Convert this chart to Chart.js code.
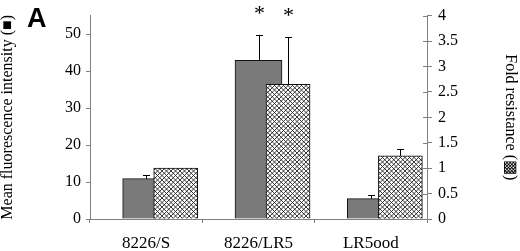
<!DOCTYPE html>
<html>
<head>
<meta charset="utf-8">
<script src="https://cdn.jsdelivr.net/npm/chart.js@4/dist/chart.umd.min.js"></script>
<style>
  html, body { margin: 0; padding: 0; background: #fff; }
  #wrap { width: 520px; height: 251px; position: relative; }
</style>
</head>
<body>
<div id="wrap"><canvas id="chart"></canvas></div>
<script>
// data
const cellLines = ['8226/S', '8226/LR5', 'LR5ood'];
const fluorescence = [10.9, 42.9, 5.5];        // left axis
const fluorescenceErr = [0.95, 6.9, 0.9];
const foldResistance = [1.0, 2.65, 1.24];      // right axis
const foldResistanceErr = [0, 0.93, 0.13];
const significant = [false, true, false];

const HATCH_SHIFT = 0.263; // hatched bar sits right of the category centre, over the grey one

// cross hatch pattern
function makeHatch() {
    const c = document.createElement('canvas');
    c.width = 9; c.height = 9;
    const g = c.getContext('2d');
    g.fillStyle = '#fff';
    g.fillRect(0, 0, 9, 9);
    g.strokeStyle = '#222';
    g.lineWidth = 0.9;
    g.beginPath();
    for (let o = -9; o <= 18; o += 4.5) {
        g.moveTo(o, 0); g.lineTo(o + 9, 9);
        g.moveTo(o + 9, 0); g.lineTo(o, 9);
    }
    g.stroke();
    return g.createPattern(c, 'repeat');
}

// error bars, asterisks, crossing ticks on the right axis and the panel letter
const extrasPlugin = {
    id: 'extras',
    afterDatasetsDraw(chart) {
        const ctx = chart.ctx;
        const sets = [
            { meta: chart.getDatasetMeta(0), vals: fluorescence, errs: fluorescenceErr, scale: chart.scales.y },
            { meta: chart.getDatasetMeta(1), vals: foldResistance, errs: foldResistanceErr, scale: chart.scales.y2 }
        ];
        ctx.save();
        ctx.strokeStyle = '#000';
        ctx.lineWidth = 1;
        sets.forEach(s => {
            s.meta.data.forEach((bar, i) => {
                const x = Math.round(bar.x) + 0.5;
                const top = s.scale.getPixelForValue(s.vals[i]);
                const errTop = s.scale.getPixelForValue(s.vals[i] + s.errs[i]);
                if (s.errs[i] > 0) {
                    ctx.beginPath();
                    ctx.moveTo(x, top);
                    ctx.lineTo(x, errTop);
                    ctx.moveTo(x - 3.5, Math.round(errTop) + 0.5);
                    ctx.lineTo(x + 3.5, Math.round(errTop) + 0.5);
                    ctx.stroke();
                }
                if (significant[i]) {
                    ctx.fillStyle = '#000';
                    ctx.font = '22px "Liberation Serif"';
                    ctx.textAlign = 'center';
                    ctx.textBaseline = 'middle';
                    ctx.fillText('*', x, errTop - 21);
                }
            });
        });

        // right axis ticks stick into the plot a little too
        const y2 = chart.scales.y2;
        ctx.strokeStyle = '#808080';
        ctx.beginPath();
        y2.ticks.forEach(t => {
            const py = Math.round(y2.getPixelForValue(t.value)) + 0.5;
            ctx.moveTo(y2.left - 4, py);
            ctx.lineTo(y2.left, py);
        });
        ctx.stroke();

        ctx.fillStyle = '#000';
        ctx.font = 'bold 27px "Liberation Sans"';
        ctx.textAlign = 'left';
        ctx.textBaseline = 'alphabetic';
        ctx.fillText('A', 27, 27);
        ctx.restore();
    }
};

const tickFont = { family: '"Liberation Serif", serif', size: 16 };
const titleFont = { family: '"Liberation Serif", serif', size: 16 };
const axisGrey = '#808080';

new Chart(document.getElementById('chart'), {
    type: 'bar',
    data: {
        labels: cellLines,
        datasets: [
            {
                label: 'Mean fluorescence intensity',
                data: fluorescence,
                xAxisID: 'x',
                yAxisID: 'y',
                backgroundColor: '#7a7a7a',
                borderColor: '#111',
                borderWidth: 1,
                barThickness: 47,
                grouped: false,
                order: 1
            },
            {
                label: 'Fold resistance',
                data: foldResistance.map((v, i) => ({ x: i + HATCH_SHIFT, y: v })),
                xAxisID: 'xh',
                yAxisID: 'y2',
                backgroundColor: makeHatch(),
                borderColor: '#111',
                borderWidth: 1,
                barThickness: 44,
                grouped: false,
                order: 0
            }
        ]
    },
    options: {
        responsive: true,
        maintainAspectRatio: false,
        animation: false,
        layout: { padding: { top: 6, left: 0, right: 0, bottom: 0 } },
        plugins: {
            legend: { display: false },
            tooltip: { enabled: false }
        },
        scales: {
            x: {
                type: 'category',
                offset: true,
                grid: { offset: true, drawOnChartArea: false, color: axisGrey, tickLength: 4 },
                border: { color: axisGrey },
                ticks: { color: '#000', font: { family: '"Liberation Serif", serif', size: 17 }, padding: 10 },
                afterFit(scale) { scale.height = 32; }
            },
            xh: {
                type: 'linear',
                display: false,
                offset: false,
                min: -0.5,
                max: cellLines.length - 0.5
            },
            y: {
                position: 'left',
                min: 0,
                max: 55,
                ticks: { stepSize: 10, color: '#000', font: tickFont, padding: 5 },
                afterBuildTicks(scale) { scale.ticks = scale.ticks.filter(t => t.value <= 50); },
                grid: { drawOnChartArea: false, color: axisGrey, tickLength: 4 },
                border: { color: axisGrey },
                title: {
                    display: true,
                    text: 'Mean fluorescence intensity (■)',
                    color: '#000',
                    font: titleFont,
                    padding: { top: -2, bottom: 0 }
                },
                afterFit(scale) { scale.width = 90; }
            },
            y2: {
                position: 'right',
                min: 0,
                max: 4,
                ticks: { stepSize: 0.5, color: '#000', font: tickFont, padding: 6, callback: v => String(v) },
                grid: { drawOnChartArea: false, color: axisGrey, tickLength: 5 },
                border: { color: axisGrey },
                title: {
                    display: true,
                    text: 'Fold resistance (▩)',
                    color: '#000',
                    font: titleFont,
                    padding: { top: 0, bottom: 0 }
                },
                afterFit(scale) { scale.width = 93; }
            }
        }
    },
    plugins: [extrasPlugin]
});
</script>
</body>
</html>
